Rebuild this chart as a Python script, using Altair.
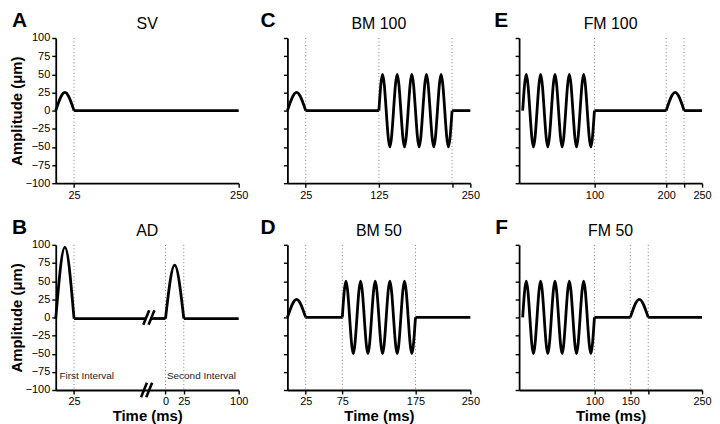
import altair as alt
import pandas as pd

FONT = "Liberation Sans"

# ---------------- data ----------------
Y_TICKS = [-100, -75, -50, -25, 0, 25, 50, 75, 100]
WAVE_A = [0, 50, 0, -50, 0, 50, 0, -50, 0, 50, 0, -50, 0, 50, 0, -50, 0, 50, 0, -50, 0]

# A: SV
SV_CURVE_T = [0, 12.5, 25]
SV_CURVE_A = [0, 25, 0]
SV_FLAT_T = [25, 250]
SV_DOTS = [25]
SV_TICKS = [25, 250]
SV_TICK_LABELS = ["25", "250"]

# B: AD (composite time axis: second interval starts at 150)
AD_BASE = -1.5
AD_CURVE1_T = [0, 12.5, 25]
AD_CURVE1_A = [AD_BASE, 97, AD_BASE]
AD_CURVE2_T = [150, 162.5, 175]
AD_CURVE2_A = [AD_BASE, 72, AD_BASE]
AD_FLAT1_T = [25, 123.5]
AD_FLAT2_T = [131, 150]
AD_FLAT3_T = [175, 250]
AD_DOTS = [25, 150, 175]
AD_TICKS = [25, 150, 175, 250]
AD_TICK_LABELS = ["25", "0", "25", "100"]
AD_BREAK_X = [123.7, 130.9, 120.6, 127.7]
AD_BREAK_Y = [0, 0, -100, -100]
AD_NOTES = ["First Interval", "Second Interval"]
AD_NOTE_T = [5, 152]
AD_NOTE_A = [-81, -81]

# C: BM 100
BM_BUMP_T = [0, 12.5, 25]
BM_BUMP_A = [0, 25, 0]
BM100_WAVE_T = [125, 130, 135, 140, 145, 150, 155, 160, 165, 170, 175,
                180, 185, 190, 195, 200, 205, 210, 215, 220, 225]
BM100_FLAT1_T = [25, 125]
BM100_FLAT2_T = [225, 250]
BM100_DOTS = [25, 125, 225]
BM100_TICKS = [25, 125, 225, 250]
BM100_TICK_LABELS = ["25", "125", "", "250"]

# D: BM 50
BM50_WAVE_T = [75, 80, 85, 90, 95, 100, 105, 110, 115, 120, 125,
               130, 135, 140, 145, 150, 155, 160, 165, 170, 175]
BM50_FLAT1_T = [25, 75]
BM50_FLAT2_T = [175, 250]
BM50_DOTS = [25, 75, 175]
BM50_TICKS = [25, 75, 175, 250]
BM50_TICK_LABELS = ["25", "75", "175", "250"]

# E: FM 100
FM_WAVE_T = [0, 5, 10, 15, 20, 25, 30, 35, 40, 45, 50,
             55, 60, 65, 70, 75, 80, 85, 90, 95, 100]
FM100_BUMP_T = [200, 212.5, 225]
FM_BUMP_A = [0, 25, 0]
FM100_FLAT1_T = [100, 200]
FM100_FLAT2_T = [225, 250]
FM100_DOTS = [100, 200, 225]
FM100_TICKS = [100, 200, 225, 250]
FM100_TICK_LABELS = ["100", "200", "", "250"]

# F: FM 50
FM50_BUMP_T = [150, 162.5, 175]
FM50_FLAT1_T = [100, 150]
FM50_FLAT2_T = [175, 250]
FM50_DOTS = [100, 150, 175]
FM50_TICKS = [100, 150, 175, 250]
FM50_TICK_LABELS = ["100", "150", "", "250"]

W, H = 184, 146


def label_expr(vals, labels):
    expr = "datum.label"
    for v, l in zip(reversed(vals), reversed(labels)):
        expr = f"datum.value == {v} ? '{l}' : ({expr})"
    return expr


def segs(pairs):
    rows = []
    for i, (ts, As) in enumerate(pairs):
        for t, a in zip(ts, As):
            rows.append({"t": t, "a": a, "seg": i})
    return pd.DataFrame(rows)


def make_panel(letter, title, domain, curves, flats, dots, ticks, tick_labels,
               left, bottom, letter_dx, breaks=None, notes=None):
    xs = alt.Scale(domain=domain, nice=False, zero=False)
    ys = alt.Scale(domain=[-100, 100], nice=False)
    x_axis = alt.Axis(values=ticks, labelExpr=label_expr(ticks, tick_labels),
                      title="Time (ms)" if bottom else "", labelFlush=False)
    y_axis = alt.Axis(values=Y_TICKS, labels=left,
                      title="Amplitude (μm)" if left else "")
    X = alt.X("t:Q", scale=xs, axis=x_axis)
    Y = alt.Y("a:Q", scale=ys, axis=y_axis)

    layers = []
    layers.append(
        alt.Chart(pd.DataFrame({"t": dots})).mark_rule(
            color="#7a7a7a", strokeWidth=1, strokeDash=[1, 2.5]
        ).encode(x=X)
    )
    layers.append(
        alt.Chart(segs(flats)).mark_line(
            color="black", strokeWidth=2.8, interpolate="linear", strokeJoin="round"
        ).encode(x=X, y=Y, detail="seg:N")
    )
    layers.append(
        alt.Chart(segs(curves)).mark_line(
            color="black", strokeWidth=2.8, interpolate="natural", strokeJoin="round"
        ).encode(x=X, y=Y, detail="seg:N")
    )
    if breaks is not None:
        bx, by = breaks
        bdf = pd.DataFrame({"t": [x - 4 for x in bx], "t2": [x + 4 for x in bx],
                            "a": [y - 10 for y in by], "a2": [y + 10 for y in by]})
        layers.append(
            alt.Chart(bdf).mark_rule(color="black", strokeWidth=2.6).encode(
                x=X, x2="t2:Q", y=Y, y2="a2:Q")
        )
    if notes is not None:
        nt, nx, ny = notes
        layers.append(
            alt.Chart(pd.DataFrame({"txt": nt, "t": nx, "a": ny})).mark_text(
                align="left", baseline="middle", font=FONT, fontSize=10, color="#222222"
            ).encode(x=X, y=Y, text="txt:N")
        )
    layers.append(
        alt.Chart(pd.DataFrame({"L": [letter]})).mark_text(
            align="left", baseline="alphabetic", font=FONT, fontSize=21,
            fontWeight="bold", color="black"
        ).encode(x=alt.value(letter_dx), y=alt.value(-11), text="L:N")
    )
    layers.append(
        alt.Chart(pd.DataFrame({"T": [title]})).mark_text(
            align="center", baseline="alphabetic", font=FONT, fontSize=16,
            color="black"
        ).encode(x=alt.value(W / 2), y=alt.value(-9), text="T:N")
    )
    return alt.layer(*layers).properties(width=W, height=H)


pA = make_panel("A", "SV", [0, 250], [(SV_CURVE_T, SV_CURVE_A)],
                [(SV_FLAT_T, [0, 0])], SV_DOTS, SV_TICKS, SV_TICK_LABELS,
                True, False, -44)
pB = make_panel("B", "AD", [0, 250],
                [(AD_CURVE1_T, AD_CURVE1_A), (AD_CURVE2_T, AD_CURVE2_A)],
                [(AD_FLAT1_T, [AD_BASE, AD_BASE]), (AD_FLAT2_T, [AD_BASE, AD_BASE]),
                 (AD_FLAT3_T, [AD_BASE, AD_BASE])],
                AD_DOTS, AD_TICKS, AD_TICK_LABELS, True, True, -44,
                breaks=(AD_BREAK_X, AD_BREAK_Y), notes=(AD_NOTES, AD_NOTE_T, AD_NOTE_A))
pC = make_panel("C", "BM 100", [0, 250],
                [(BM_BUMP_T, BM_BUMP_A), (BM100_WAVE_T, WAVE_A)],
                [(BM100_FLAT1_T, [0, 0]), (BM100_FLAT2_T, [0, 0])],
                BM100_DOTS, BM100_TICKS, BM100_TICK_LABELS, False, False, -27)
pD = make_panel("D", "BM 50", [0, 250],
                [(BM_BUMP_T, BM_BUMP_A), (BM50_WAVE_T, WAVE_A)],
                [(BM50_FLAT1_T, [0, 0]), (BM50_FLAT2_T, [0, 0])],
                BM50_DOTS, BM50_TICKS, BM50_TICK_LABELS, False, True, -27)
pE = make_panel("E", "FM 100", [-5, 250],
                [(FM_WAVE_T, WAVE_A), (FM100_BUMP_T, FM_BUMP_A)],
                [(FM100_FLAT1_T, [0, 0]), (FM100_FLAT2_T, [0, 0])],
                FM100_DOTS, FM100_TICKS, FM100_TICK_LABELS, False, False, -25)
pF = make_panel("F", "FM 50", [-5, 250],
                [(FM_WAVE_T, WAVE_A), (FM50_BUMP_T, FM_BUMP_A)],
                [(FM50_FLAT1_T, [0, 0]), (FM50_FLAT2_T, [0, 0])],
                FM50_DOTS, FM50_TICKS, FM50_TICK_LABELS, False, True, -24)

chart = alt.concat(
    pA, pC, pE, pB, pD, pF,
    columns=3, spacing={"row": 62, "column": 49}, bounds="flush",
).properties(padding=0).configure_view(
    stroke="transparent"
).configure_axis(
    labelFont=FONT, labelFontSize=11, labelColor="black", labelPadding=2,
    titleFont=FONT, titleFontSize=15, titleFontWeight="bold", titleColor="black",
    domainColor="black", domainWidth=1.8, tickColor="black", tickWidth=1.4,
    tickSize=4, grid=False,
).configure_axisY(titlePadding=1).configure_axisX(titlePadding=2)

chart.save("out.html", embed_options={"renderer": "svg", "actions": False})
